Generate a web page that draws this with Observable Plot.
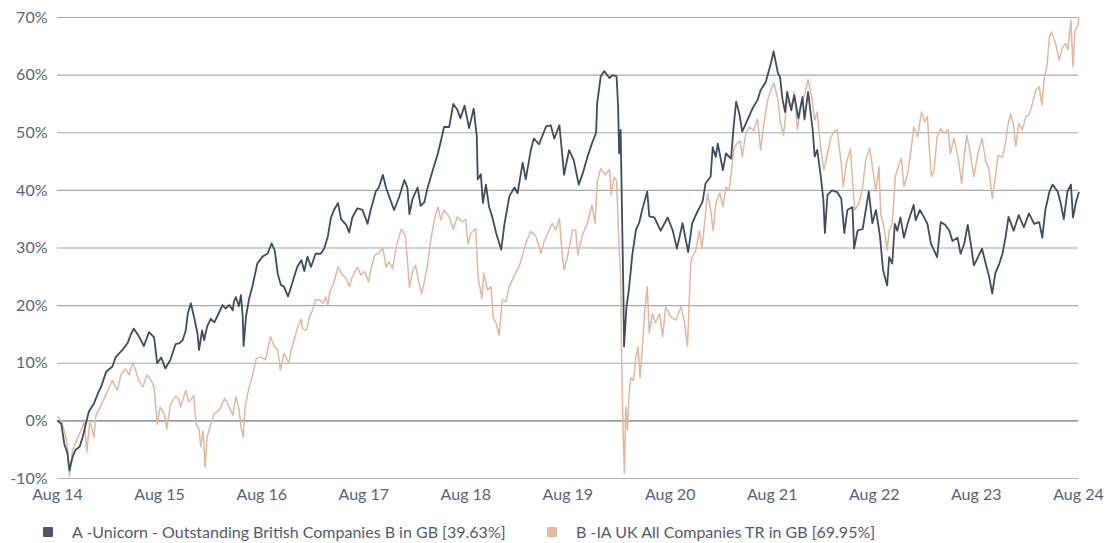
<!DOCTYPE html>
<html>
<head>
<meta charset="utf-8">
<script src="https://cdn.jsdelivr.net/npm/d3@7"></script>
<script src="https://cdn.jsdelivr.net/npm/@observablehq/plot@0.6"></script>
<style>
  html, body { margin: 0; padding: 0; background: #ffffff; }
  body { width: 1118px; font-family: Lato, "Open Sans", sans-serif; }
  #chart svg { display: block; }
  #legend { position: relative; height: 26px; font-size: 16px; color: #505c6e; }
  #legend .item { position: absolute; top: 4px; display: flex; align-items: center; white-space: nowrap; }
  #legend .swatch { width: 10px; height: 10px; margin-right: 19px; border-radius: 1px; }
</style>
</head>
<body>
<div id="chart"></div>
<div id="legend"></div>
<script>
// Cumulative total return (%) over ten years, sampled at dates given as decimal years.
const fundName = "A -Unicorn - Outstanding British Companies B in GB [39.63%]";
const sectorName = "B -IA UK All Companies TR in GB [69.95%]";

const fundYears = [
  2014.667, 2014.70, 2014.73, 2014.76, 2014.78, 2014.81, 2014.84, 2014.88, 2014.91, 2014.94,
  2014.97, 2015.02, 2015.06, 2015.09, 2015.14, 2015.17, 2015.20, 2015.235, 2015.30, 2015.35,
  2015.38, 2015.41, 2015.45, 2015.48, 2015.51, 2015.56, 2015.61, 2015.64, 2015.68, 2015.72,
  2015.77, 2015.82, 2015.86, 2015.89, 2015.92, 2015.94, 2015.97, 2016.00, 2016.035, 2016.05,
  2016.08, 2016.10, 2016.13, 2016.165, 2016.20, 2016.23, 2016.28, 2016.31, 2016.345, 2016.38,
  2016.39, 2016.41, 2016.44, 2016.46, 2016.477, 2016.486, 2016.51, 2016.54, 2016.57, 2016.62,
  2016.67, 2016.72, 2016.76, 2016.79, 2016.82, 2016.85, 2016.88, 2016.92, 2016.97, 2017.01,
  2017.05, 2017.08, 2017.11, 2017.145, 2017.19, 2017.24, 2017.275, 2017.31, 2017.34, 2017.37,
  2017.41, 2017.44, 2017.49, 2017.52, 2017.55, 2017.60, 2017.65, 2017.70, 2017.73, 2017.78,
  2017.81, 2017.85, 2017.88, 2017.93, 2017.96, 2018.01, 2018.06, 2018.09, 2018.11, 2018.14,
  2018.19, 2018.22, 2018.255, 2018.29, 2018.34, 2018.39, 2018.42, 2018.45, 2018.50, 2018.54,
  2018.58, 2018.61, 2018.65, 2018.695, 2018.74, 2018.77, 2018.78, 2018.81, 2018.83, 2018.86,
  2018.89, 2018.92, 2018.96, 2019.01, 2019.04, 2019.09, 2019.14, 2019.17, 2019.22, 2019.25,
  2019.30, 2019.33, 2019.38, 2019.45, 2019.495, 2019.53, 2019.58, 2019.61, 2019.626, 2019.675,
  2019.72, 2019.77, 2019.81, 2019.855, 2019.90, 2019.94, 2019.95, 2019.985, 2020.02, 2020.07,
  2020.10, 2020.14, 2020.155, 2020.165, 2020.18, 2020.19, 2020.207, 2020.213, 2020.237, 2020.26,
  2020.295, 2020.33, 2020.36, 2020.39, 2020.44, 2020.46, 2020.51, 2020.57, 2020.64, 2020.69,
  2020.73, 2020.785, 2020.84, 2020.88, 2020.93, 2020.98, 2021.01, 2021.06, 2021.08, 2021.11,
  2021.13, 2021.18, 2021.21, 2021.26, 2021.285, 2021.31, 2021.34, 2021.37, 2021.42, 2021.47,
  2021.52, 2021.55, 2021.60, 2021.65, 2021.677, 2021.72, 2021.74, 2021.765, 2021.79, 2021.81,
  2021.85, 2021.88, 2021.92, 2021.96, 2021.98, 2022.015, 2022.06, 2022.08, 2022.105, 2022.14,
  2022.165, 2022.18, 2022.205, 2022.25, 2022.30, 2022.34, 2022.37, 2022.40, 2022.45, 2022.466,
  2022.50, 2022.55, 2022.61, 2022.645, 2022.68, 2022.72, 2022.75, 2022.79, 2022.81, 2022.84,
  2022.865, 2022.89, 2022.92, 2022.955, 2022.99, 2023.05, 2023.07, 2023.11, 2023.15, 2023.185,
  2023.22, 2023.25, 2023.28, 2023.315, 2023.36, 2023.40, 2023.43, 2023.48, 2023.51, 2023.545,
  2023.58, 2023.61, 2023.64, 2023.68, 2023.72, 2023.756, 2023.79, 2023.82, 2023.85, 2023.89,
  2023.92, 2023.95, 2023.98, 2024.03, 2024.08, 2024.13, 2024.18, 2024.23, 2024.28, 2024.31,
  2024.34, 2024.38, 2024.41, 2024.46, 2024.49, 2024.52, 2024.556, 2024.59, 2024.61, 2024.64,
  2024.667
];
const fundPct = [
  0, -0.5, -4, -5.6, -8.6, -6.3, -5, -4.5, -2.8, -0.6,
  1.6, 3, 4.8, 5.9, 8.5, 9, 9.4, 11.1, 12.3, 13.5,
  14.9, 16, 15, 14, 13, 15.4, 14.5, 10, 11, 9.1,
  10.6, 13.3, 13.5, 14, 15.7, 18.6, 20.4, 18.1, 15.2, 12.3,
  15.7, 14, 16.4, 17.7, 17.1, 18.2, 20.1, 19.5, 20.1, 19.2,
  20.6, 21.5, 19.9, 21.8, 18.2, 13, 18.2, 21.2, 23.2, 27.3,
  28.5, 29, 30.8, 29.6, 25.5, 23.6, 23.3, 21.6, 24.4, 26.7,
  27.9, 26, 28.5, 26.7, 29, 29, 29.9, 32, 35.2, 36.6,
  37.8, 35, 34, 32.7, 35.3, 36.9, 36.6, 34.2, 36.6, 39.8,
  40.5, 42.7, 40.5, 38, 36.6, 38.9, 41.8, 40.5, 35.9, 38.5,
  40.5, 37.3, 37.9, 40.6, 43.6, 46.5, 48.7, 51, 51, 55,
  54, 52.5, 54.7, 50.8, 54.2, 49.4, 41.9, 42.8, 37.8, 41,
  37.2, 35.5, 32.6, 29.7, 34, 39, 40.5, 39.5, 44.8, 41.9,
  47, 49, 48, 51.1, 51.3, 49, 51.3, 45.8, 42.7, 47,
  45.3, 41, 43, 45.8, 48.2, 50, 55, 59.8, 60.7, 59.5,
  60, 59.8, 54.5, 46.4, 50.5, 39.5, 22, 12.9, 19.8, 22.7,
  29, 33.2, 34.3, 36.6, 39.8, 35.5, 35.3, 33, 35.3, 33,
  29.9, 34.3, 29.3, 34.3, 36.3, 38, 41.2, 42.4, 47.5, 45.8,
  48.1, 43.5, 46.4, 45.5, 51, 55.4, 53.4, 50.2, 52.2, 54.2,
  55.7, 57.4, 58.8, 62, 64.1, 60.3, 59.7, 55.7, 53.6, 57.1,
  53.9, 56.5, 52.5, 56.2, 52.3, 57.1, 50.5, 45.9, 47, 42.4,
  38.3, 32.6, 39.2, 40, 39.7, 38.6, 32.6, 36.6, 37.1, 29.9,
  33, 33.3, 39.8, 34.3, 36.6, 32, 26.2, 23.5, 28.4, 27.3,
  34.2, 33, 35.3, 31.8, 34.2, 37.5, 34.8, 36.6, 35.4, 34.2,
  30.7, 29.6, 28.4, 34.5, 34, 33, 31.2, 31.8, 29, 30.7,
  34, 30.7, 27, 28.4, 29.9, 27.3, 25, 22.1, 25.6, 27.3,
  29, 31.8, 35.4, 33, 35.7, 33.6, 36, 34.2, 34.5, 31.8,
  36.6, 39.8, 41, 39.8, 37.8, 35, 39.8, 41, 35.3, 38,
  39.63
];

const sectorYears = [
  2014.667, 2014.70, 2014.73, 2014.76, 2014.78, 2014.81, 2014.86, 2014.91, 2014.925, 2014.95,
  2014.98, 2015.02, 2015.04, 2015.07, 2015.105, 2015.15, 2015.20, 2015.25, 2015.285, 2015.33,
  2015.365, 2015.40, 2015.43, 2015.46, 2015.50, 2015.54, 2015.58, 2015.61, 2015.64, 2015.67,
  2015.71, 2015.735, 2015.77, 2015.82, 2015.855, 2015.87, 2015.92, 2015.95, 2016.00, 2016.02,
  2016.05, 2016.067, 2016.09, 2016.11, 2016.13, 2016.165, 2016.20, 2016.25, 2016.30, 2016.33,
  2016.38, 2016.41, 2016.44, 2016.46, 2016.482, 2016.50, 2016.54, 2016.57, 2016.61, 2016.655,
  2016.70, 2016.75, 2016.785, 2016.82, 2016.845, 2016.88, 2016.93, 2016.95, 2016.98, 2017.01,
  2017.05, 2017.06, 2017.10, 2017.13, 2017.16, 2017.19, 2017.23, 2017.26, 2017.29, 2017.31,
  2017.33, 2017.37, 2017.41, 2017.455, 2017.49, 2017.52, 2017.55, 2017.60, 2017.635, 2017.67,
  2017.71, 2017.73, 2017.77, 2017.81, 2017.85, 2017.88, 2017.91, 2017.945, 2017.98, 2018.03,
  2018.07, 2018.09, 2018.11, 2018.14, 2018.17, 2018.205, 2018.23, 2018.255, 2018.29, 2018.32,
  2018.36, 2018.39, 2018.42, 2018.45, 2018.50, 2018.54, 2018.58, 2018.63, 2018.66, 2018.685,
  2018.71, 2018.76, 2018.783, 2018.82, 2018.84, 2018.875, 2018.91, 2018.93, 2018.96, 2018.99,
  2019.02, 2019.055, 2019.09, 2019.14, 2019.185, 2019.22, 2019.25, 2019.30, 2019.35, 2019.40,
  2019.43, 2019.46, 2019.51, 2019.545, 2019.58, 2019.61, 2019.626, 2019.66, 2019.71, 2019.74,
  2019.76, 2019.81, 2019.855, 2019.90, 2019.93, 2019.95, 2019.985, 2020.03, 2020.07, 2020.09,
  2020.115, 2020.14, 2020.165, 2020.18, 2020.19, 2020.203, 2020.217, 2020.23, 2020.246, 2020.26,
  2020.28, 2020.305, 2020.33, 2020.35, 2020.37, 2020.39, 2020.416, 2020.44, 2020.46, 2020.49,
  2020.52, 2020.56, 2020.59, 2020.62, 2020.67, 2020.72, 2020.77, 2020.80, 2020.834, 2020.85,
  2020.867, 2020.88, 2020.915, 2020.95, 2020.975, 2021.00, 2021.03, 2021.06, 2021.085, 2021.11,
  2021.15, 2021.18, 2021.21, 2021.24, 2021.265, 2021.29, 2021.32, 2021.35, 2021.37, 2021.405,
  2021.44, 2021.48, 2021.52, 2021.55, 2021.585, 2021.62, 2021.65, 2021.68, 2021.72, 2021.74,
  2021.775, 2021.81, 2021.85, 2021.88, 2021.91, 2021.944, 2021.98, 2022.015, 2022.05, 2022.08,
  2022.105, 2022.14, 2022.17, 2022.205, 2022.24, 2022.27, 2022.30, 2022.34, 2022.36, 2022.39,
  2022.43, 2022.45, 2022.473, 2022.515, 2022.55, 2022.58, 2022.62, 2022.655, 2022.68, 2022.71,
  2022.727, 2022.76, 2022.79, 2022.81, 2022.84, 2022.87, 2022.91, 2022.93, 2022.955, 2022.99,
  2023.02, 2023.05, 2023.09, 2023.126, 2023.16, 2023.185, 2023.20, 2023.224, 2023.25, 2023.28,
  2023.315, 2023.35, 2023.387, 2023.41, 2023.445, 2023.485, 2023.52, 2023.545, 2023.57, 2023.60,
  2023.64, 2023.68, 2023.72, 2023.756, 2023.79, 2023.82, 2023.85, 2023.876, 2023.92, 2023.95,
  2023.97, 2024.00, 2024.03, 2024.05, 2024.08, 2024.115, 2024.15, 2024.18, 2024.21, 2024.246,
  2024.28, 2024.305, 2024.33, 2024.355, 2024.38, 2024.40, 2024.44, 2024.474, 2024.51, 2024.54,
  2024.56, 2024.59, 2024.61, 2024.63, 2024.66, 2024.667
];
const sectorPct = [
  0.7, 0, -1.7, -4.3, -9.6, -5.1, -3, -1, 0.2, -5.4,
  0, -2.8, 1, 2, 3.3, 5, 7, 5.3, 8, 9,
  8, 10.2, 8.7, 7, 5.9, 8, 7, 5.9, -0.6, 2.4,
  1.2, -1.4, 2.8, 4.3, 3.7, 2.4, 5.3, 3.3, 4.4, -0.5,
  -1.4, -4.5, -1.7, -8, -2.8, -0.5, 1.3, 1.9, 3.9, 3,
  1, 4.2, 2.2, -1, -2.8, 2.4, 5.9, 7.6, 10.8, 11.1,
  10.6, 14.6, 12.9, 12.3, 8.8, 11.7, 10, 12.3, 14, 16,
  17.7, 16, 15.7, 18, 19.2, 21, 21, 20.4, 21.5, 20,
  22.4, 24, 26.7, 25.3, 24.7, 23.3, 25, 26.7, 25.3, 25.9,
  24.1, 26.2, 28.8, 29.1, 30, 26.7, 27.6, 26.4, 30.2, 33.3,
  32.1, 28, 23.2, 25.9, 27, 23.8, 22.1, 24.1, 27.3, 31.4,
  35.4, 37.1, 34.8, 36.6, 35.4, 33.3, 35.4, 34.5, 35, 30.7,
  32.5, 33.4, 25, 21.2, 25.6, 22.7, 23.3, 18, 16.9, 14.9,
  21, 20.7, 23.3, 25.3, 26.8, 28.8, 30.8, 32.9, 32, 29.1,
  31.1, 32.3, 34.3, 33.1, 35.1, 28.5, 26.2, 28.5, 33.1, 33.1,
  28.8, 32.5, 34.3, 37.5, 34.3, 41.3, 43.8, 42.7, 43.6, 39.2,
  42.3, 41.7, 30.2, 25, 10.5, -1, -9.1, 2.4, -1.6, 4.2,
  7.5, 7, 11.1, 12.8, 7.5, 12.2, 19.2, 23.3, 15.2, 18.6,
  17, 18.6, 14.6, 19.8, 18, 17.5, 19.8, 17.5, 12.9, 20.9,
  27.4, 28.4, 29.6, 33, 29.9, 34.3, 39.5, 36.6, 33, 37.7,
  39.5, 37.2, 40.6, 40, 43.5, 47.5, 48.1, 48.6, 45.8, 49.9,
  51, 50.4, 52.4, 47, 52, 55.7, 57.4, 58.6, 55.7, 52.2,
  49.6, 55.7, 54.5, 57.1, 50.5, 54.8, 56.5, 59.2, 56.3, 52.2,
  53.6, 47, 43.5, 46.4, 49.3, 50.2, 50.5, 44.7, 40.6, 44.7,
  47.2, 41.8, 36.6, 37.8, 40.6, 45.3, 47.3, 43, 39.8, 44.1,
  35.9, 33.6, 29.6, 33, 34.2, 42.4, 44.7, 45.6, 40.6, 42.9,
  46.3, 51, 49.3, 53.6, 51.9, 52.8, 48.1, 42.4, 43.5, 49.3,
  50.7, 49.9, 50.5, 46.4, 49, 45.8, 41.2, 45.8, 49.6, 47,
  42.4, 46.4, 49, 45.2, 43.5, 38.6, 42.1, 46, 45.8, 48.1,
  51, 53.3, 51.3, 47.6, 51.6, 50.5, 52.8, 53.1, 54.8, 57.4,
  58, 54.8, 59.7, 61.4, 66.6, 67.5, 65.5, 62.6, 64.9, 65.5,
  64.4, 69.5, 61.4, 67.8, 68.6, 69.95
];

const tickDates = ["2014-08-31", "2015-08-31", "2016-08-31", "2017-08-31", "2018-08-31",
  "2019-08-31", "2020-08-31", "2021-08-31", "2022-08-31", "2023-08-31", "2024-08-31"];
const yTicks = [-10, 0, 10, 20, 30, 40, 50, 60, 70];

const fundColor = "#3e4c61";
const sectorColor = "#e3b69d";

// Decimal year (e.g. 2019.5) to a UTC Date
function fromDecimalYear(v) {
  const y = Math.floor(v);
  const start = Date.UTC(y, 0, 1);
  const end = Date.UTC(y + 1, 0, 1);
  return new Date(start + (v - y) * (end - start));
}

const fund = fundYears.map((t, i) => ({date: fromDecimalYear(t), value: fundPct[i]}));
const sector = sectorYears.map((t, i) => ({date: fromDecimalYear(t), value: sectorPct[i]}));
const ticks = tickDates.map(s => new Date(s + "T00:00:00Z"));

const chart = Plot.plot({
  width: 1118,
  height: 518,
  marginLeft: 57,
  marginRight: 40,
  marginTop: 17,
  marginBottom: 40,
  style: {fontFamily: "Lato, 'Open Sans', sans-serif", fontSize: "16px", color: "#58647a", background: "#ffffff"},
  x: {type: "utc", domain: [ticks[0], ticks[ticks.length - 1]], ticks: ticks,
      tickFormat: d3.utcFormat("%b %y"), tickSize: 0, tickPadding: 10, label: null},
  y: {domain: [-10, 70], ticks: yTicks, tickFormat: d => d + "%", tickSize: 0,
      tickPadding: 10, label: null},
  marks: [
    Plot.ruleY(yTicks.filter(d => d !== 0 && d !== -10), {stroke: "#a9a9a9", strokeWidth: 1.2}),
    Plot.ruleY([-10], {stroke: "#b3b3b3", strokeWidth: 1.2}),
    Plot.ruleY([0], {stroke: "#949eab", strokeWidth: 1.6}),
    Plot.lineY(sector, {x: "date", y: "value", stroke: sectorColor, strokeWidth: 1.5}),
    Plot.lineY(fund, {x: "date", y: "value", stroke: fundColor, strokeWidth: 1.8})
  ]
});
document.getElementById("chart").appendChild(chart);

// Legend below the plot
const legend = document.getElementById("legend");
[
  {name: fundName, color: "#4a566b", left: 43},
  {name: sectorName, color: "#e6b9a3", left: 547}
].forEach(d => {
  const item = document.createElement("div");
  item.className = "item";
  item.style.left = d.left + "px";
  const sw = document.createElement("span");
  sw.className = "swatch";
  sw.style.background = d.color;
  const label = document.createElement("span");
  label.textContent = d.name;
  item.appendChild(sw);
  item.appendChild(label);
  legend.appendChild(item);
});
</script>
</body>
</html>
